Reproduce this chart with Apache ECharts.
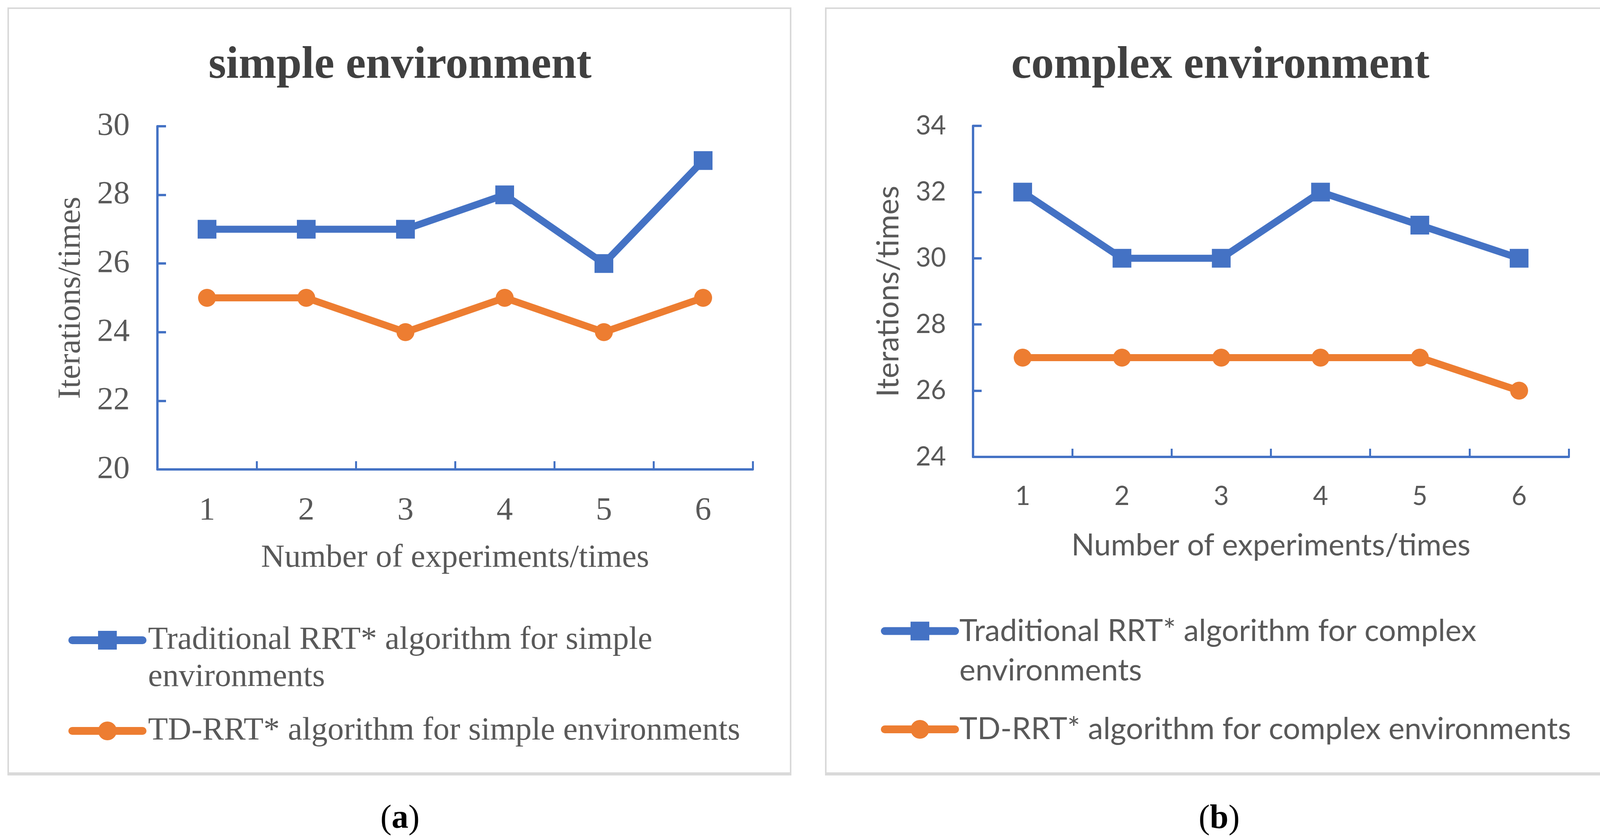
<!DOCTYPE html>
<html>
<head>
<meta charset="utf-8">
<script src="https://cdn.jsdelivr.net/npm/echarts@6/dist/echarts.min.js"></script>
<style>html,body{margin:0;padding:0;background:#fff}#c{width:4141px;height:2144px}</style>
</head>
<body>
<div id="c"></div>
<script>
// ---- data ----
const experiments = ['1', '2', '3', '4', '5', '6'];
const simpleTraditional = [27, 27, 27, 28, 26, 29];
const simpleTD = [25, 25, 24, 25, 24, 25];
const complexTraditional = [32, 30, 30, 32, 31, 30];
const complexTD = [27, 27, 27, 27, 27, 26];
const simpleRange = [20, 30, 2];
const complexRange = [24, 34, 2];
const titles = ['simple environment', 'complex environment'];
const xName = 'Number of experiments/times';
const yName = 'Iterations/times';
const seriesNames = [
  'Traditional RRT* algorithm for simple environments',
  'TD-RRT* algorithm for simple environments',
  'Traditional RRT* algorithm for complex environments',
  'TD-RRT* algorithm for complex environments'
];
const captions = ['a', 'b'];

// ---- styles ----
const BLUE = '#4472C4', ORANGE = '#ED7D31', GREY = '#595959', TITLE = '#404040';
const SERIF = '"Liberation Serif", "Times New Roman", serif';
const SANS = 'Lato, "Noto Sans", sans-serif';
const cv = document.createElement('canvas').getContext('2d');
function fit(text, family, target) {
  cv.font = '100px ' + family;
  const w = cv.measureText(text).width;
  return w > 0 ? 100 * target / w : 80;
}
const fa = fit(xName, SERIF, 994);
const fbName = fit(xName, SANS, 1022);
const fbLeg = fit(seriesNames[3], SANS, 1566);
const fbTick = fbName * 0.87;

function xAx(i, fam, fs, margin, gap, nfs) {
  return {
    type: 'category', gridIndex: i, data: experiments, boundaryGap: true,
    axisLine: {show: true, lineStyle: {color: BLUE, width: 6}},
    axisTick: {show: true, inside: true, length: 21, lineStyle: {color: BLUE, width: 5}},
    axisLabel: {color: GREY, fontFamily: fam, fontSize: fs, margin: margin},
    splitLine: {show: false},
    name: xName, nameLocation: 'middle', nameGap: gap,
    nameTextStyle: {color: GREY, fontFamily: fam, fontSize: nfs}
  };
}
function yAx(i, r, fam, fs, margin, gap, nfs) {
  return {
    type: 'value', gridIndex: i, min: r[0], max: r[1], interval: r[2],
    axisLine: {show: true, lineStyle: {color: BLUE, width: 6}},
    axisTick: {show: true, inside: true, length: 22, lineStyle: {color: BLUE, width: 6}},
    axisLabel: {color: GREY, fontFamily: fam, fontSize: fs, margin: margin},
    splitLine: {show: false},
    name: yName, nameLocation: 'middle', nameGap: gap,
    nameTextStyle: {color: GREY, fontFamily: fam, fontSize: nfs}
  };
}
function ser(i, name, data, color, symbol, size) {
  return {
    type: 'line', name: name, xAxisIndex: i, yAxisIndex: i, data: data,
    symbol: symbol, symbolSize: size, showSymbol: true,
    lineStyle: {color: color, width: 18}, itemStyle: {color: color},
    emphasis: {disabled: true}
  };
}
// iconCenter: y of the legend icon; twoLines: text wraps, icon aligned with first line
function leg(name, left, iconCenter, fam, fs, lh, width, padLeft, twoLines) {
  const lines = twoLines ? 3 : 1;
  return {
    orient: 'vertical', left: left, top: iconCenter - lines * lh / 2, padding: 0,
    itemWidth: 180, itemHeight: 60, selectedMode: false,
    data: [name],
    formatter: twoLines ? '\n{name}' : '{name}',
    textStyle: {color: GREY, fontFamily: fam, fontSize: fs, lineHeight: lh, width: width,
                overflow: 'break', padding: [0, 0, 0, padLeft]},
    lineStyle: {width: 20, cap: 'round'}
  };
}
function caption(ch, x) {
  return {
    type: 'text', x: x, y: 2096,
    style: {
      text: '{p|(}{b|' + ch + '}{p|)}', align: 'center', verticalAlign: 'middle',
      rich: {
        p: {fontFamily: SERIF, fontSize: 86, fill: '#000'},
        b: {fontFamily: SERIF, fontSize: 86, fontWeight: 'bold', fill: '#000'}
      }
    }
  };
}

const option = {
  animation: false,
  backgroundColor: '#fff',
  title: [
    {text: titles[0], left: 1024, top: 111, textAlign: 'center', padding: 0,
     textStyle: {fontFamily: SERIF, fontWeight: 'bold', fontSize: 116, color: TITLE}},
    {text: titles[1], left: 3124, top: 111, textAlign: 'center', padding: 0,
     textStyle: {fontFamily: SERIF, fontWeight: 'bold', fontSize: 116, color: TITLE}}
  ],
  grid: [
    {left: 403, top: 323, width: 1524, height: 878},
    {left: 2491, top: 322, width: 1525, height: 847}
  ],
  xAxis: [xAx(0, SERIF, fa, 65, 186, fa), xAx(1, SANS, fbTick, 68, 189, fbName)],
  yAxis: [yAx(0, simpleRange, SERIF, fa, 71, 179, fa), yAx(1, complexRange, SANS, fbTick, 69, 177, fbName)],
  legend: [
    leg(seriesNames[0], 175, 1638, SERIF, fa, 95, 1600, 9, true),
    leg(seriesNames[1], 175, 1870, SERIF, fa, 95, 1600, 9, false),
    leg(seriesNames[2], 2255, 1614.5, SANS, fbLeg, 101, 1640, 6, true),
    leg(seriesNames[3], 2255, 1866, SANS, fbLeg, 101, 1640, 6, false)
  ],
  series: [
    ser(0, seriesNames[0], simpleTraditional, BLUE, 'rect', 48),
    ser(0, seriesNames[1], simpleTD, ORANGE, 'circle', 46),
    ser(1, seriesNames[2], complexTraditional, BLUE, 'rect', 48),
    ser(1, seriesNames[3], complexTD, ORANGE, 'circle', 46)
  ],
  graphic: [
    {type: 'rect', shape: {x: 21, y: 21, width: 2003, height: 1958}, style: {fill: 'none', stroke: '#d9d9d9', lineWidth: 4}, silent: true},
    {type: 'rect', shape: {x: 2114, y: 21, width: 2014, height: 1958}, style: {fill: 'none', stroke: '#d9d9d9', lineWidth: 4}, silent: true},
    {type: 'rect', shape: {x: 19, y: 1976, width: 2007, height: 8}, style: {fill: '#d9d9d9'}, silent: true},
    {type: 'rect', shape: {x: 2112, y: 1976, width: 2018, height: 8}, style: {fill: '#d9d9d9'}, silent: true},
    caption(captions[0], 1024),
    caption(captions[1], 3121)
  ]
};
const chart = echarts.init(document.getElementById('c'), null, {renderer: 'canvas'});
chart.setOption(option);
</script>
</body>
</html>
